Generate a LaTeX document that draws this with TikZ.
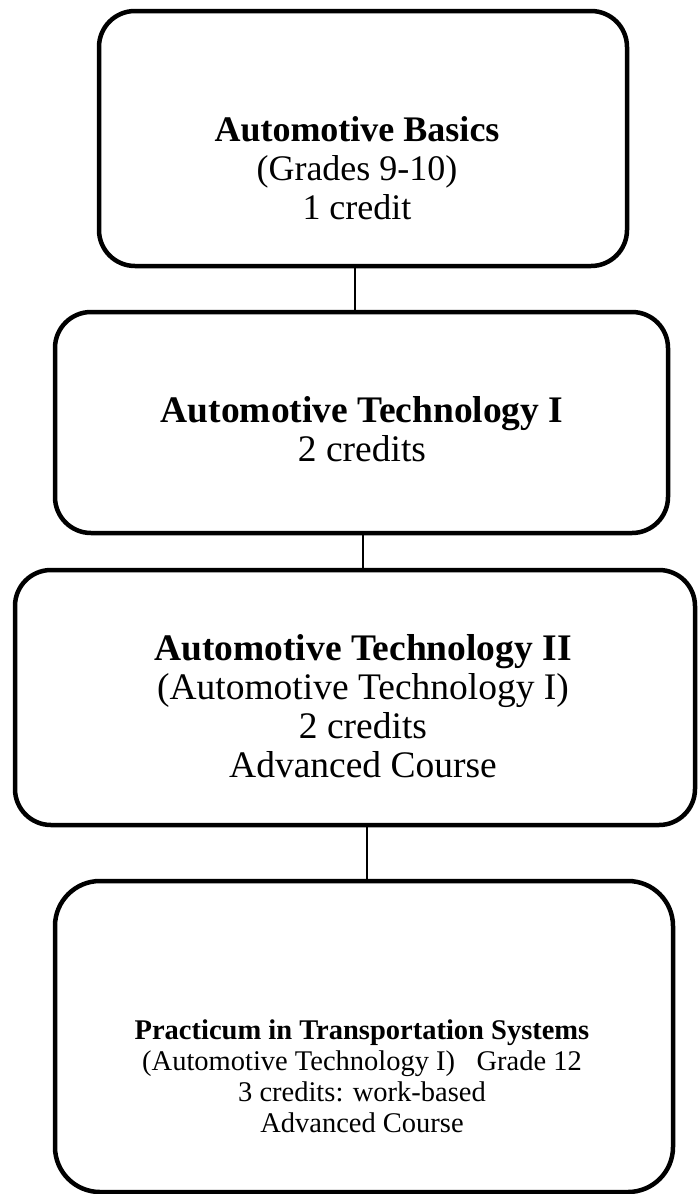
\documentclass[tikz,border=0pt]{standalone}
\usepackage{fontspec}
\setmainfont{Liberation Serif}
\usetikzlibrary{scopes}

\begin{document}
\begin{tikzpicture}[
    x=1pt, y=-1pt,
    course/.style={rectangle,draw=black,line width=4.5pt,rounded corners=36pt,inner sep=0pt},
    info/.style={align=center,font=\fontsize{#1}{39}\selectfont},
    info/.default=37.5,
    small/.style={align=center,font=\fontsize{28.5}{31}\selectfont},
    link/.style={draw=black,line width=1.6pt},
]
    \useasboundingbox (0,0) rectangle (698,1194);

    %%%
    % Course boxes
    \node[course,minimum width=528,minimum height=255] (basics) at (363,138.5) {};
    \node[info=36] (basicstext) at (357,168) {\textbf{Automotive Basics}\\(Grades 9-10)\\1 credit};

    \node[course,minimum width=613,minimum height=221] (techone) at (361.5,422.5) {};
    \node[info] (techonetext) at (362,429) {\textbf{Automotive Technology I}\\2 credits};

    \node[course,minimum width=680,minimum height=255] (techtwo) at (355,697.5) {};
    \node[info] (techtwotext) at (363,706) {\textbf{Automotive Technology II}\\(Automotive Technology I)\\2 credits\\Advanced Course};

    \node[course,rounded corners=45pt,minimum width=618,minimum height=311] (practicum) at (364,1036.5) {};
    \node[small] (practicumtext) at (362,1076) {\textbf{Practicum in Transportation Systems}\\(Automotive Technology I)~~~Grade 12\\3 credits: work-based\\Advanced Course};

    %%%
    % Links between courses
    {[link]
        \draw ([xshift=-8pt]basics.south) -- ([xshift=-8pt]basics.south |- techone.north);
        \draw ([xshift=1.5pt]techone.south) -- ([xshift=1.5pt]techone.south |- techtwo.north);
        \draw ([xshift=12pt]techtwo.south) -- ([xshift=12pt]techtwo.south |- practicum.north);
    }

\end{tikzpicture}
\end{document}
